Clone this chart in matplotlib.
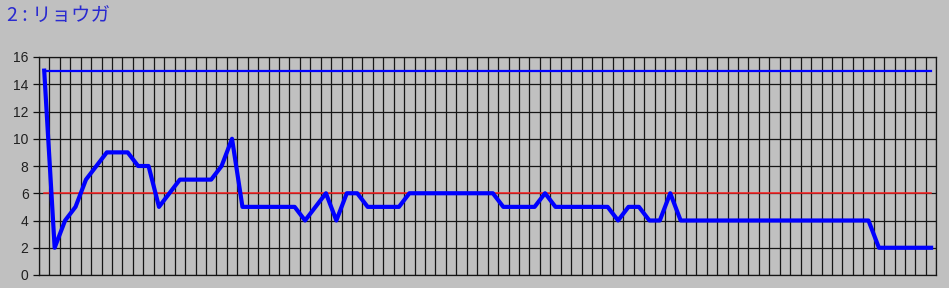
import matplotlib.pyplot as plt
import numpy as np

# データ（86回分）
score = [15, 2, 4, 5, 7, 8, 9, 9, 9, 8, 8, 5, 6, 7, 7, 7, 7, 8, 10, 5,
         5, 5, 5, 5, 5, 4, 5, 6, 4, 6, 6, 5, 5, 5, 5,
         6, 6, 6, 6, 6, 6, 6, 6, 6,
         5, 5, 5, 5,
         6,
         5, 5, 5, 5, 5, 5,
         4, 5, 5, 4, 4, 6,
         4, 4, 4, 4, 4, 4, 4, 4, 4, 4, 4, 4, 4, 4, 4, 4, 4, 4, 4,
         2, 2, 2, 2, 2, 2]
upper = [15] * len(score)
middle = [6] * len(score)
y_ticks = [0, 2, 4, 6, 8, 10, 12, 14, 16]
title = '2 : リョウガ'

plt.rcParams['font.family'] = ['Liberation Sans', 'DejaVu Sans']
bg = '#c0c0c0'
W, H = 949, 288
fig = plt.figure(figsize=(W / 100, H / 100), dpi=100, facecolor=bg)

# プロット領域（ピクセル位置から）
left, right, top, bottom = 39, 936.3, 57, 275
ax = fig.add_axes([left / W, 1 - bottom / H, (right - left) / W, (bottom - top) / H])
ax.set_facecolor(bg)

x = np.arange(len(score))
ax.set_xlim(-0.5, len(score) - 0.5)
ax.set_ylim(0, 16)
ax.set_xticks(np.arange(-0.5, len(score), 1.0))
ax.set_xticklabels([])
ax.set_yticks(y_ticks)
ax.tick_params(axis='x', length=0)
ax.tick_params(axis='y', length=4, width=0.9, color='#101010', pad=3.5,
               labelsize=10, labelcolor='#202020')
ax.grid(True, color='#151515', linewidth=0.9)
ax.set_axisbelow(True)
for s in ax.spines.values():
    s.set_color('#151515')
    s.set_linewidth(0.9)

ax.plot(x, middle, color='#ff2020', linewidth=1.1, zorder=3)
ax.plot(x, upper, color='#0000ff', linewidth=1.6, zorder=4)
ax.plot(x, score, color='#0000ff', linewidth=3.0, zorder=5, solid_joinstyle='round')

fig.text(7 / W, 1 - 16 / H, title, fontsize=14, color='#2a2ad0', va='center', ha='left',
         family=['Noto Sans CJK JP', 'DejaVu Sans'])

plt.savefig('out.png', dpi=100, facecolor=bg)
